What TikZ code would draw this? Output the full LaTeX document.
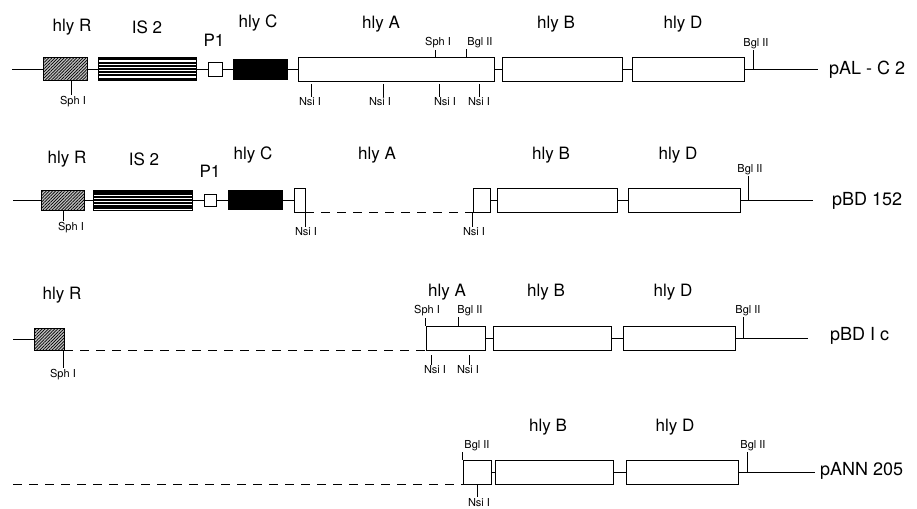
\documentclass[tikz,border=0pt]{standalone}
\usepackage{fontspec}
\setmainfont{TeX Gyre Heros}
\usetikzlibrary{calc,patterns.meta}

\begin{document}
\begin{tikzpicture}[
    x=1pt, y=-1pt,
    gene/.style={draw, line width=0.8pt, inner sep=0pt, minimum height=24pt},
    hatched/.style={gene, fill=gray!50,
                    postaction={pattern={Lines[angle=45,distance=2.2pt,line width=0.7pt]}}},
    striped/.style={gene, fill=white, path picture={
                    \foreach \k in {0.08,0.22,0.36,0.50,0.64,0.78,0.92}
                        \draw[line width=2pt] ($(path picture bounding box.south west)!\k!(path picture bounding box.north west)$)
                            -- ($(path picture bounding box.south east)!\k!(path picture bounding box.north east)$);}},
    filled/.style={gene, fill=black},
    backbone/.style={line width=0.8pt},
    deleted/.style={line width=0.9pt, dash pattern=on 9pt off 7pt},
    tick/.style={line width=0.6pt},
    genename/.style={font=\fontsize{17}{20}\selectfont},
    site/.style={font=\fontsize{11}{13}\selectfont, inner sep=1pt},
    plasmid/.style={font=\fontsize{18}{21}\selectfont, anchor=west, inner sep=0pt},
]

    \useasboundingbox (0,0) rectangle (917,508);

    % pAL-C2
    \node[genename] (n1R) at (72,27) {hly R};
    \node[genename] (n1IS) at (147,27) {IS 2};
    \node[genename] (n1P) at (214,40) {P1};
    \node[genename] (n1C) at (258,23) {hly C};
    \node[genename] (n1A) at (381,24) {hly A};
    \node[genename] (n1B) at (556,24) {hly B};
    \node[genename] (n1D) at (683,24) {hly D};

    \coordinate (s1) at (12,69);
    \node[hatched, minimum width=44pt, minimum height=23pt] (r1R) at (65,69) {};
    \node[striped, minimum width=98pt, minimum height=23pt] (r1IS) at (147,69) {};
    \node[gene, minimum width=14pt, minimum height=14pt] (r1P) at (215,69) {};
    \node[filled, minimum width=54pt, minimum height=20pt] (r1C) at (260,69) {};
    \node[gene, minimum width=196pt] (r1A) at (396,69) {};
    \node[gene, minimum width=120pt] (r1B) at (562,69) {};
    \node[gene, minimum width=112pt] (r1D) at (688,69) {};
    \coordinate (e1) at (818,69);
    \node[plasmid] (p1) at (829,70) {pAL - C 2};
    \draw[backbone] (s1) -- (r1R) -- (r1IS) -- (r1P) -- (r1C) -- (r1A) -- (r1B) -- (r1D) -- (e1);

    \node[site] (k1a) at (73,102) {Sph I};
    \node[site] (k1b) at (310,102) {Nsi I};
    \node[site] (k1c) at (380,102) {Nsi I};
    \node[site] (k1d) at (445,102) {Nsi I};
    \node[site] (k1e) at (479,102) {Nsi I};
    \node[site] (k1f) at (438,43) {Sph I};
    \node[site] (k1g) at (480,43) {Bgl II};
    \node[site] (k1h) at (756,44) {Bgl II};
    \coordinate (t1a) at (71,80);
    \coordinate (t1b) at (311,84);
    \coordinate (t1c) at (383,84);
    \coordinate (t1d) at (439,84);
    \coordinate (t1e) at (479,84);
    \coordinate (t1f) at (435,57);
    \coordinate (t1g) at (466,57);
    \coordinate (t1h) at (753,69);
    \draw[tick] (t1a) -- (t1a |- k1a.north);
    \draw[tick] (t1b) -- (t1b |- k1b.north);
    \draw[tick] (t1c) -- (t1c |- k1c.north);
    \draw[tick] (t1d) -- (t1d |- k1d.north);
    \draw[tick] (t1e) -- (t1e |- k1e.north);
    \draw[tick] (t1f) -- (t1f |- k1f.south);
    \draw[tick] (t1g) -- (t1g |- k1g.south);
    \draw[tick] (t1h) -- (t1h |- k1h.south);

    % pBD152
    \node[genename] (n2R) at (67,159) {hly R};
    \node[genename] (n2IS) at (144,159) {IS 2};
    \node[genename] (n2P) at (210,171) {P1};
    \node[genename] (n2C) at (253,155) {hly C};
    \node[genename] (n2A) at (377,155) {hly A};
    \node[genename] (n2B) at (551,155) {hly B};
    \node[genename] (n2D) at (678,155) {hly D};

    \coordinate (s2) at (13,200);
    \node[hatched, minimum width=43pt, minimum height=20pt] (r2R) at (62.5,200) {};
    \node[striped, minimum width=99pt, minimum height=20pt] (r2IS) at (142.5,200) {};
    \node[gene, minimum width=12pt, minimum height=12pt] (r2P) at (210,200) {};
    \node[filled, minimum width=54pt, minimum height=19pt] (r2C) at (255,200) {};
    \node[gene, minimum width=11pt] (r2a) at (299.5,200) {};
    \node[gene, minimum width=17pt] (r2b) at (481.5,200) {};
    \node[gene, minimum width=120pt] (r2B) at (557,200) {};
    \node[gene, minimum width=112pt] (r2D) at (684,200) {};
    \coordinate (e2) at (813,200);
    \node[plasmid] (p2) at (832,201) {pBD 152};
    \draw[backbone] (s2) -- (r2R) -- (r2IS) -- (r2P) -- (r2C) -- (r2a);
    \draw[deleted] (r2a.south east) -- (r2b.south west);
    \draw[backbone] (r2b) -- (r2B) -- (r2D) -- (e2);

    \node[site] (k2a) at (71,228) {Sph I};
    \node[site] (k2b) at (306,232) {Nsi I};
    \node[site] (k2c) at (474,232) {Nsi I};
    \node[site] (k2d) at (750,170) {Bgl II};
    \coordinate (t2a) at (63,210);
    \coordinate (t2d) at (748,200);
    \draw[tick] (t2a) -- (t2a |- k2a.north);
    \draw[tick] (r2a.south east) -- (r2a.south east |- k2b.north);
    \draw[tick] (r2b.south west) -- (r2b.south west |- k2c.north);
    \draw[tick] (t2d) -- (t2d |- k2d.south);

    % pBD Ic
    \node[genename] (n3R) at (62,295) {hly R};
    \node[genename] (n3A) at (447,292) {hly A};
    \node[genename] (n3B) at (546,292) {hly B};
    \node[genename] (n3D) at (673,292) {hly D};

    \coordinate (s3) at (13,339);
    \node[hatched, minimum width=30pt, minimum height=22pt] (r3R) at (49,339) {};
    \node[gene, minimum width=59pt] (r3A) at (455.5,338) {};
    \node[gene, minimum width=118pt] (r3B) at (552,338) {};
    \node[gene, minimum width=112pt] (r3D) at (679,338) {};
    \coordinate (e3) at (808,338);
    \node[plasmid] (p3) at (830,336) {pBD I c};
    \draw[backbone] (s3) -- (r3R);
    \draw[deleted] (r3R.south east) -- (r3R.south east -| r3A.south west);
    \draw[backbone] (r3A) -- (r3B) -- (r3D) -- (e3);

    \node[site] (k3a) at (63,375) {Sph I};
    \node[site] (k3b) at (427,311) {Sph I};
    \node[site] (k3c) at (470,311) {Bgl II};
    \node[site] (k3d) at (748,311) {Bgl II};
    \node[site] (k3e) at (435,370) {Nsi I};
    \node[site] (k3f) at (468,370) {Nsi I};
    \coordinate (t3a) at (63,350);
    \coordinate (t3c) at (458,326);
    \coordinate (t3d) at (743,338);
    \coordinate (t3e) at (431,355);
    \coordinate (t3f) at (469,355);
    \draw[tick] (t3a) -- (t3a |- k3a.north);
    \draw[tick] (r3A.north west) -- (r3A.north west |- k3b.south);
    \draw[tick] (t3c) -- (t3c |- k3c.south);
    \draw[tick] (t3d) -- (t3d |- k3d.south);
    \draw[tick] (t3e) -- (t3e |- k3e.north);
    \draw[tick] (t3f) -- (t3f |- k3f.north);

    % pANN205
    \node[genename] (n4B) at (548,427) {hly B};
    \node[genename] (n4D) at (675,427) {hly D};

    \coordinate (s4) at (13,484);
    \node[gene, minimum width=28pt] (r4a) at (477,472) {};
    \node[gene, minimum width=118pt] (r4B) at (554,472) {};
    \node[gene, minimum width=112pt] (r4D) at (682,472) {};
    \coordinate (e4) at (815,472);
    \node[plasmid] (p4) at (820,471) {pANN 205};
    \draw[deleted] (r4a.south west -| s4) -- (r4a.south west);
    \draw[backbone] (r4a) -- (r4B) -- (r4D) -- (e4);

    \node[site] (k4a) at (477,446) {Bgl II};
    \node[site] (k4b) at (753,446) {Bgl II};
    \node[site, anchor=north] (k4c) at (479,497) {Nsi I};
    \coordinate (t4b) at (747,472);
    \coordinate (t4c) at (477,484);
    \draw[tick] (r4a.north west) -- (r4a.north west |- k4a.south);
    \draw[tick] (t4b) -- (t4b |- k4b.south);
    \draw[tick] (t4c) -- (t4c |- k4c.north);

\end{tikzpicture}
\end{document}
